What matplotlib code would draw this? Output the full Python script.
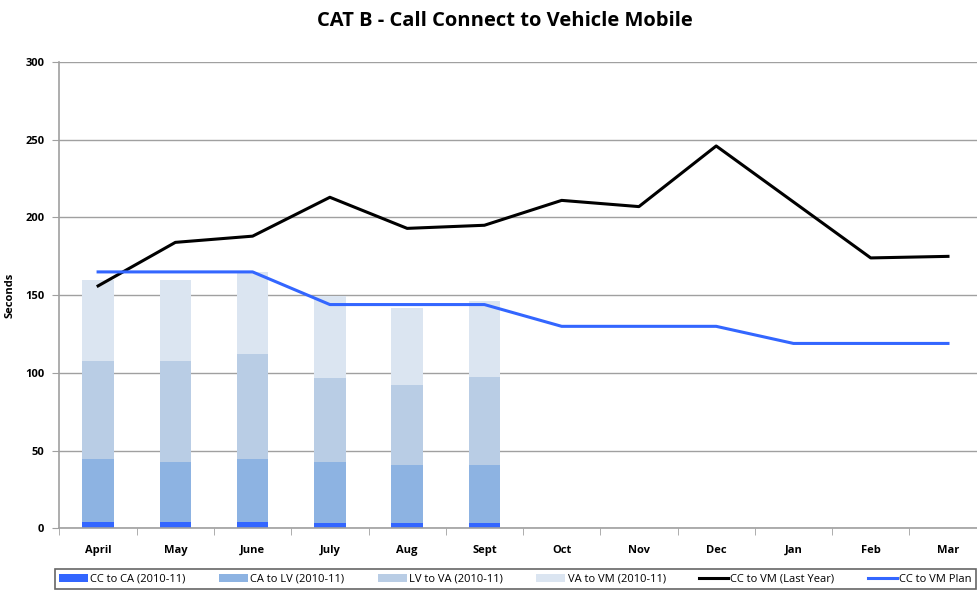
import numpy as np
import matplotlib.pyplot as plt

months = ["April", "May", "June", "July", "Aug", "Sept", "Oct", "Nov", "Dec", "Jan", "Feb", "Mar"]

# stacked components (2010-11), only Apr-Sept available
cc_to_ca = [4, 4, 4, 3.5, 3.5, 3.5]
ca_to_lv = [41, 39, 41, 39, 37, 37]
lv_to_va = [63, 65, 67, 54, 52, 57]
va_to_vm = [52, 52, 53, 53, 49.5, 48.5]

last_year = [156, 184, 188, 213, 193, 195, 211, 207, 246, 210, 174, 175]
plan = [165, 165, 165, 144, 144, 144, 130, 130, 130, 119, 119, 119]

plt.rcParams['font.family'] = ['Open Sans', 'DejaVu Sans']

fig = plt.figure(figsize=(9.78, 5.91), dpi=100)
ax = fig.add_axes([0.0608, 0.1058, 0.948, 0.7893])

x = np.arange(len(months))
xb = x[:len(cc_to_ca)]
w = 0.41
bottom = np.zeros(len(cc_to_ca))
stack = [(cc_to_ca, "#3366FF", "CC to CA (2010-11)"),
         (ca_to_lv, "#8DB3E2", "CA to LV (2010-11)"),
         (lv_to_va, "#B9CDE5", "LV to VA (2010-11)"),
         (va_to_vm, "#DBE5F1", "VA to VM (2010-11)")]
handles = []
for vals, col, lab in stack:
    b = ax.bar(xb, vals, w, bottom=bottom, color=col, label=lab, zorder=2)
    handles.append(b)
    bottom += np.array(vals)

l1, = ax.plot(x, last_year, color="black", lw=2.2, label="CC to VM (Last Year)", zorder=3)
l2, = ax.plot(x, plan, color="#3366FF", lw=2.2, label="CC to VM Plan", zorder=3)
handles += [l1, l2]

ax.set_xlim(-0.5, len(months) - 0.5)
ax.set_ylim(0, 300)
ax.set_yticks(range(0, 301, 50))
ax.set_xticks(x)
ax.set_xticklabels(months)
ax.set_xticks(np.arange(-0.5, len(months), 1), minor=True)
ax.tick_params(axis='x', which='major', length=0, pad=12)
ax.tick_params(axis='x', which='minor', length=5, color="#A0A0A0", direction='out')
ax.tick_params(axis='y', length=5, color="#A0A0A0", pad=6)
for lab in ax.get_xticklabels() + ax.get_yticklabels():
    lab.set_fontsize(8)
    lab.set_fontweight('bold')

ax.grid(axis='y', color="#A0A0A0", lw=1, zorder=0)
ax.set_axisbelow(True)
for s in ["top", "right"]:
    ax.spines[s].set_visible(False)
for s in ["left", "bottom"]:
    ax.spines[s].set_color("#A0A0A0")
    ax.spines[s].set_linewidth(1.2)

ax.set_ylabel("Seconds", fontsize=8, fontweight='bold', labelpad=7)
fig.text(0.516, 0.965, "CAT B - Call Connect to Vehicle Mobile", ha='center', va='center',
         fontsize=14.5, fontweight='bold')

leg = fig.legend(handles=handles, loc='upper left', bbox_to_anchor=(0.056, 0.037, 0.942, 0.0),
                 mode='expand', ncol=6, fontsize=8, frameon=True, fancybox=False,
                 handlelength=2.6, handleheight=0.8, handletextpad=0.2, borderaxespad=0,
                 columnspacing=1.0)
leg.get_frame().set_edgecolor("#404040")
leg.get_frame().set_linewidth(1.2)

fig.savefig("out.png", dpi=100)
